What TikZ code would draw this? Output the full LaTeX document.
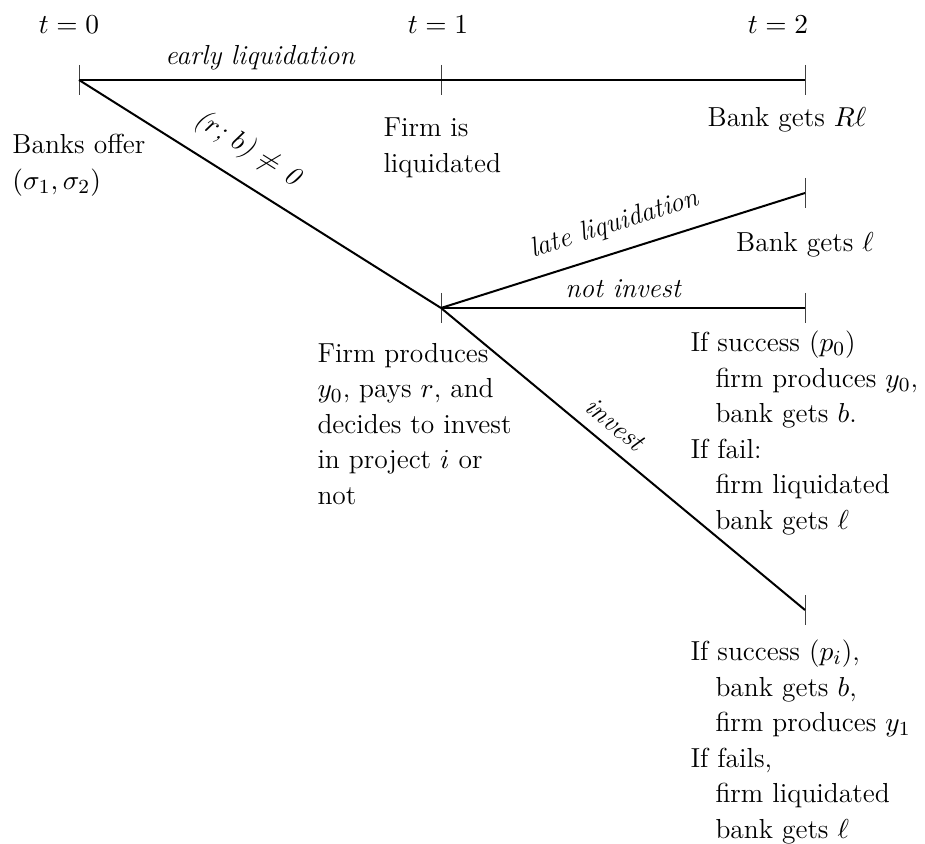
\documentclass[tikz,border=0pt]{standalone}
\begin{document}
\begin{tikzpicture}[x=0.4pt,y=-0.4pt,
  branch/.style={line width=0.8pt},
  tick/.style={line width=0.4pt, black!75},
  lab/.style={font=\itshape},
  txt/.style={inner sep=0pt, align=left, anchor=west}]
\useasboundingbox (0,0) rectangle (925,844);
\fontsize{11}{14.2}\selectfont
\coordinate (A) at (79,80);
\coordinate (B) at (441,80);
\coordinate (C) at (805,80);
\coordinate (M) at (441,308);
\coordinate (L) at (805,193);
\coordinate (N) at (805,308);
\coordinate (I) at (805,610);
% ticks
\foreach \p in {A,B,C,M,L,N,I}
  \draw[tick] ([yshift=6pt]\p) -- ([yshift=-6pt]\p);
% branches
\draw[branch] (A) -- node[lab, above, midway]{early liquidation} (B);
\draw[branch] (B) -- (C);
\draw[branch] (A) -- node[lab, above, sloped, pos=0.42, yshift=3pt]{($r$; $b$) $\neq$ 0} (M);
\draw[branch] (M) -- node[lab, above, sloped, pos=0.5, yshift=2pt]{late liquidation} (L);
\draw[branch] (M) -- node[lab, above, midway]{not invest} (N);
\draw[branch] (M) -- node[lab, above, sloped, pos=0.44, yshift=1pt]{invest} (I);
% time labels
\node (t0) at (69,25) {$t=0$};
\node (t1) at (438,25) {$t=1$};
\node (t2) at (778,25) {$t=2$};
% texts
\node[txt] (banks) at (12,165) {Banks offer\\$(\sigma_1,\sigma_2)$};
\node[txt] (liq) at (383,148) {Firm is\\liquidated};
\node (bankR) at (787,120) {Bank gets $R\ell$};
\node (bankl) at (805,245) {Bank gets $\ell$};
\node[txt] (firm) at (317,424) {Firm produces\\$y_0$, pays $r$, and\\decides to invest\\in project $i$ or\\not};
\node[txt] (succ0) at (690,433) {If success ($p_0$)\\\hspace*{10pt}firm produces $y_0$,\\\hspace*{10pt}bank gets $b$.\\If fail:\\\hspace*{10pt}firm liquidated\\\hspace*{10pt}bank gets $\ell$};
\node[txt] (succi) at (690,742) {If success ($p_i$),\\\hspace*{10pt}bank gets $b$,\\\hspace*{10pt}firm produces $y_1$\\If fails,\\\hspace*{10pt}firm liquidated\\\hspace*{10pt}bank gets $\ell$};
\end{tikzpicture}
\end{document}
